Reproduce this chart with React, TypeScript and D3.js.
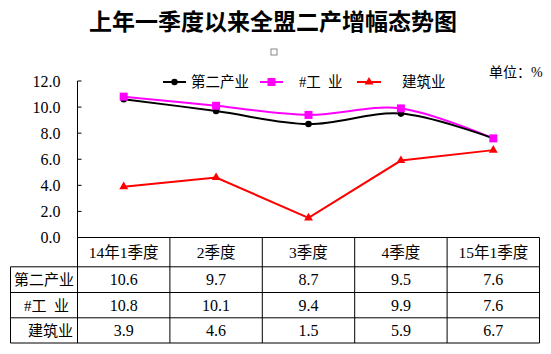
import React from "react";
import * as d3 from "d3";

const categories = ["14年1季度", "2季度", "3季度", "4季度", "15年1季度"];
const seriesNames = ["第二产业", "#工  业", "建筑业"];
const secondary = [10.6, 9.7, 8.7, 9.5, 7.6];
const industry = [10.8, 10.1, 9.4, 9.9, 7.6];
const construction = [3.9, 4.6, 1.5, 5.9, 6.7];
const yTicks = [0, 2, 4, 6, 8, 10, 12];

const W = 551;
const H = 354;
const plotLeft = 77.5;
const plotRight = 539.5;
const plotTop = 81;
const plotBottom = 237.5;
const tableLeft = 10.5;
const rowLines = [237.5, 266.8, 292.5, 317.8, 343];

const numFont = "'Liberation Serif', 'Times New Roman', serif";
const cjkFont = "'Liberation Serif', 'Noto Sans CJK SC', serif";

export default function App() {
  const x = d3.scaleBand<string>().domain(categories).range([plotLeft, plotRight]);
  const y = d3.scaleLinear().domain([0, 12]).range([plotBottom, plotTop]);
  const cx = (c: string) => (x(c) as number) + x.bandwidth() / 2;

  const smooth = d3
    .line<number>()
    .x((_, i) => cx(categories[i]))
    .y((d) => y(d))
    .curve(d3.curveCardinal.tension(0));
  const straight = d3
    .line<number>()
    .x((_, i) => cx(categories[i]))
    .y((d) => y(d));

  const tri = d3.symbol().type(d3.symbolTriangle).size(34)() as string;

  const rows = [
    { name: seriesNames[0], vals: secondary, ax: 74 },
    { name: seriesNames[1], vals: industry, ax: 69 },
    { name: seriesNames[2], vals: construction, ax: 73 },
  ];

  const colEdges = categories.map((c) => x(c) as number).concat([plotRight]);

  return (
    <svg width={W} height={H} style={{ position: "absolute", left: 0, top: 0, background: "#fff" }}>
      <rect x={0} y={0} width={W} height={H} fill="#fff" />
      {/* title */}
      <text x={273} y={30} textAnchor="middle" fontFamily="'Noto Sans CJK SC', serif" fontWeight="bold" fontSize={23} fill="#000">
        上年一季度以来全盟二产增幅态势图
      </text>
      <rect x={271} y={49} width={6} height={6} fill="none" stroke="#888" strokeWidth={1} />
      <text x={489} y={77} fontFamily={cjkFont} fontSize={14} fill="#000">单位：%</text>

      {/* legend */}
      <g>
        <line x1={163} x2={186} y1={82} y2={82} stroke="#000" strokeWidth={2} />
        <circle cx={174.5} cy={82} r={3.2} fill="#000" />
        <text x={191} y={87} fontFamily={cjkFont} fontSize={14.5}>{seriesNames[0]}</text>
        <line x1={260} x2={283} y1={82} y2={82} stroke="#ff00ff" strokeWidth={2} />
        <rect x={267.5} y={78} width={8} height={8} fill="#ff00ff" />
        <text x={299} y={87} fontFamily={cjkFont} fontSize={14.5} style={{ whiteSpace: "pre" }}>{seriesNames[1]}</text>
        <line x1={357} x2={381} y1={82} y2={82} stroke="#ff0000" strokeWidth={2} />
        <path d={tri} transform="translate(369,82)" fill="#ff0000" />
        <text x={402} y={87} fontFamily={cjkFont} fontSize={14.5}>{seriesNames[2]}</text>
      </g>

      {/* y axis */}
      <line x1={plotLeft} x2={plotLeft} y1={plotTop} y2={rowLines[4]} stroke="#000" strokeWidth={1} />
      {yTicks.map((t) => (
        <g key={t}>
          <line x1={plotLeft} x2={plotLeft + 4} y1={y(t)} y2={y(t)} stroke="#000" strokeWidth={1} />
          <text x={60.5} y={y(t) + 5.5} textAnchor="end" fontFamily={numFont} fontSize={16} fill="#000">
            {t.toFixed(1)}
          </text>
        </g>
      ))}

      {/* series */}
      <path d={smooth(industry) as string} fill="none" stroke="#ff00ff" strokeWidth={2} />
      <path d={smooth(secondary) as string} fill="none" stroke="#000" strokeWidth={2} />
      <path d={straight(construction) as string} fill="none" stroke="#ff0000" strokeWidth={2} />
      {secondary.map((v, i) => (
        <circle key={"s" + i} cx={cx(categories[i])} cy={y(v)} r={3.3} fill="#000" />
      ))}
      {industry.map((v, i) => (
        <rect key={"i" + i} x={cx(categories[i]) - 4} y={y(v) - 4} width={8} height={8} fill="#ff00ff" />
      ))}
      {construction.map((v, i) => (
        <path key={"c" + i} d={tri} transform={`translate(${cx(categories[i])},${y(v)})`} fill="#ff0000" />
      ))}

      {/* table */}
      <g stroke="#000" strokeWidth={1}>
        <line x1={plotLeft} x2={plotRight} y1={rowLines[0]} y2={rowLines[0]} />
        {rowLines.slice(1).map((ly, i) => (
          <line key={i} x1={tableLeft} x2={plotRight} y1={ly} y2={ly} />
        ))}
        <line x1={tableLeft} x2={tableLeft} y1={rowLines[1]} y2={rowLines[4]} />
        {colEdges.map((ex, i) => (
          <line key={i} x1={ex} x2={ex} y1={rowLines[0]} y2={rowLines[4]} />
        ))}
      </g>
      {categories.map((c) => (
        <text key={c} x={cx(c)} y={(rowLines[0] + rowLines[1]) / 2 + 5.5} textAnchor="middle" fontFamily={cjkFont} fontSize={15.5}>
          {c}
        </text>
      ))}
      {rows.map((r, ri) => {
        const my = (rowLines[ri + 1] + rowLines[ri + 2]) / 2 + 5.5;
        return (
          <g key={r.name}>
            <text x={r.ax} y={my} textAnchor="end" fontFamily={cjkFont} fontSize={15} style={{ whiteSpace: "pre" }}>
              {r.name}
            </text>
            {r.vals.map((v, i) => (
              <text key={i} x={cx(categories[i])} y={my} textAnchor="middle" fontFamily={numFont} fontSize={16}>
                {v.toFixed(1)}
              </text>
            ))}
          </g>
        );
      })}
    </svg>
  );
}
